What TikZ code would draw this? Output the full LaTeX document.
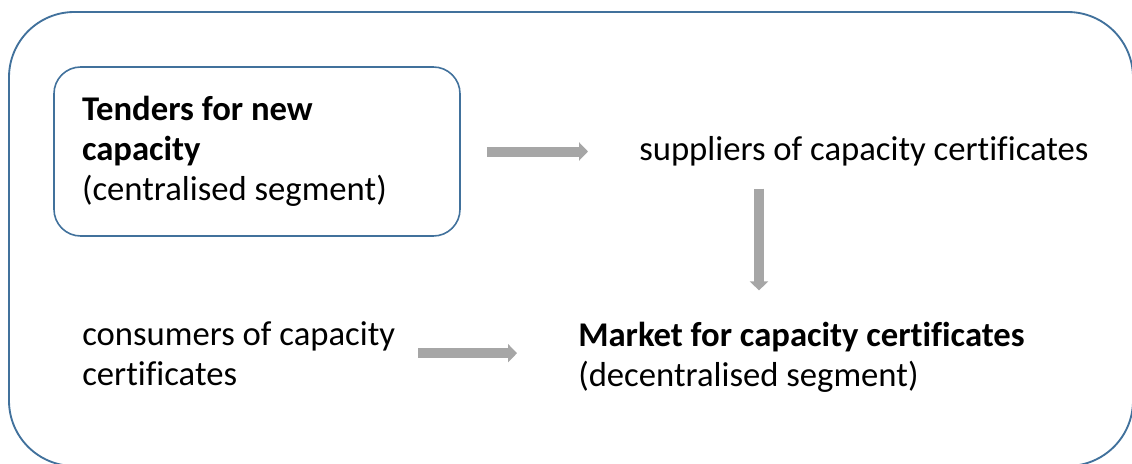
\documentclass[tikz,border=0pt]{standalone}
\usepackage{fontspec}
\setmainfont[Ligatures=NoCommon]{Carlito}
\usetikzlibrary{arrows.meta,positioning}
\definecolor{frameblue}{HTML}{41719C}
\definecolor{arrowgray}{HTML}{A6A6A6}
\newcommand{\natspace}{\spaceskip=0pt\relax}
\tikzstyle{frame} = [draw=frameblue, line width=1.4pt, rounded corners=49pt]
\tikzstyle{tenderbox} = [draw=frameblue, line width=1.2pt, rounded corners=20pt, minimum width=304.5pt, minimum height=126.75pt, text width=262.5pt, inner xsep=21pt, align=left]
\tikzstyle{plain} = [inner sep=0pt, align=left]
\tikzstyle{fat} = [draw=arrowgray, line width=7.5pt, -{Triangle[length=6.75pt,width=13.5pt]}]

\begin{document}
\begin{tikzpicture}[x=0.75pt,y=-0.75pt,font=\fontsize{26}{30}\selectfont]

\useasboundingbox (0,0) rectangle (1132,464);
\draw[frame] (9,12) rectangle (1133,466);

\node[tenderbox] (tenders) at (257,151.5) {\natspace\textbf{Tenders for new}\\ \textbf{capacity}\\ (centralised segment)};
\node[plain, anchor=base west] (suppliers) at (639,160) {suppliers of capacity certificates};
\node[plain, anchor=base west] (consumers) at (82,385) {consumers of capacity\\ certificates};
\node[plain, anchor=base west] (market) at (578,386) {\textbf{Market for capacity certificates}\\ (decentralised segment)};

\coordinate (downx) at (759,0);

  \draw[fat, shorten <=19.5pt, shorten >=38.25pt] (tenders.east) -- (tenders.east -| suppliers.west);
  \draw[fat, shorten <=17pt, shorten >=23.25pt] (suppliers.south -| downx) -- (market.north -| downx);
  \draw[fat, shorten <=17.25pt, shorten >=45.75pt] (consumers.east) -- (consumers.east -| market.west);

\end{tikzpicture}
\end{document}
